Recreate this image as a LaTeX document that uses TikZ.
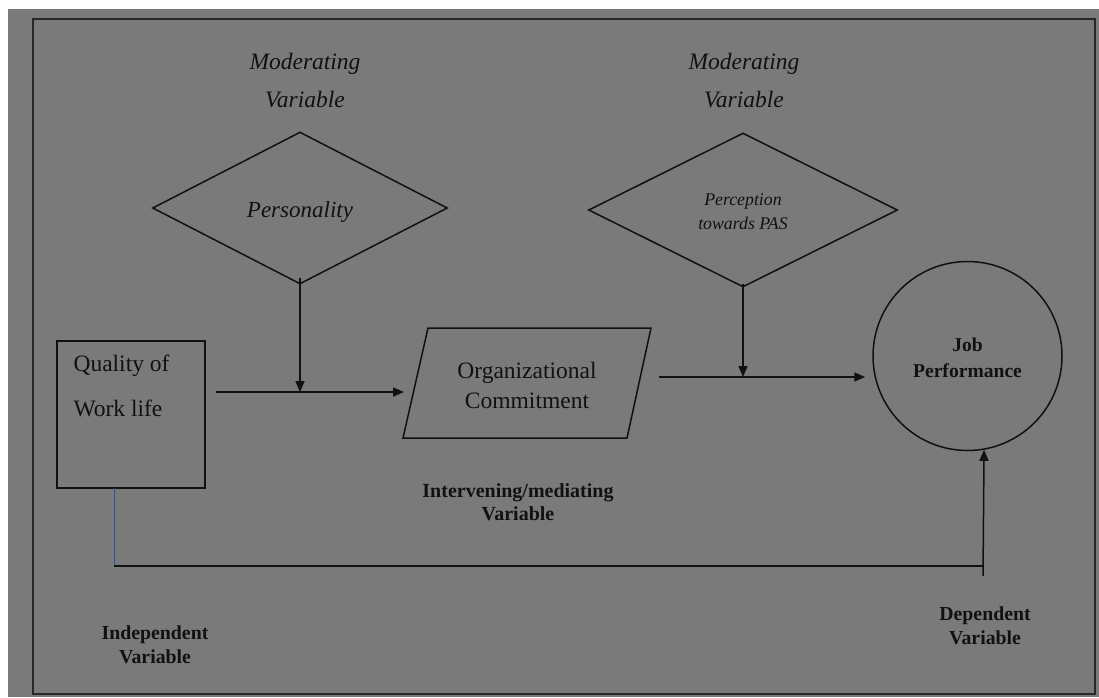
\documentclass[tikz,border=0pt]{standalone}
\usepackage{fontspec}
\setmainfont{Liberation Serif}
\usetikzlibrary{arrows.meta,shapes.geometric}
\definecolor{bggray}{RGB}{122,122,122}
\definecolor{framec}{RGB}{40,40,40}
\definecolor{inkc}{RGB}{17,17,17}
\definecolor{bluel}{RGB}{50,85,120}
\tikzset{
  shapeline/.style={draw=inkc, line width=1.5pt},
  arr/.style={draw=inkc, line width=1.5pt, -{Triangle[length=11pt,width=9pt]}},
  plain/.style={draw=inkc, line width=1.5pt},
  modtext/.style={text=inkc, align=center, font=\itshape\fontsize{23.5}{38}\selectfont},
  boldlabel/.style={text=inkc, align=center, font=\bfseries\fontsize{19.8}{24}\selectfont},
}
\begin{document}
\begin{tikzpicture}[x=1pt,y=-1pt]
\useasboundingbox (0,0) rectangle (1099,697);
\fill[white] (0,0) rectangle (1099,697);
\fill[bggray] (8,9) rectangle (1099,697);
\draw[framec, line width=2pt] (33,19) rectangle (1095,694);

% moderating labels
\node[modtext] (mod1) at (305,81) {Moderating\\Variable};
\node[modtext] (mod2) at (744,81) {Moderating\\Variable};

% diamonds
\node[shapeline, diamond, inner sep=0pt, minimum width=295pt, minimum height=152pt] (pers) at (300,208) {};
\node[text=inkc, font=\itshape\fontsize{23}{28}\selectfont] (perst) at (300,212) {Personality};
\node[shapeline, diamond, inner sep=0pt, minimum width=309pt, minimum height=154pt] (perc) at (743,210) {};
\node[text=inkc, align=center, font=\itshape\fontsize{17.8}{24}\selectfont] (perct) at (743,212) {Perception\\towards PAS};

% quality box
\node[shapeline, rectangle, minimum width=148pt, minimum height=147pt, inner sep=0pt] (q) at (131,414.5) {};
\node[text=inkc, align=left, anchor=west, font=\fontsize{23.5}{45}\selectfont] (qt) at (70,386) {Quality of\\Work life};

% parallelogram
\coordinate (p1) at (428,328);
\coordinate (p2) at (651,328);
\coordinate (p3) at (627,438);
\coordinate (p4) at (403,438);
\draw[shapeline, line join=miter] (p1) -- (p2) -- (p3) -- (p4) -- cycle;
\node[text=inkc, align=center, font=\fontsize{23.5}{30}\selectfont] (oc) at (527,385) {Organizational\\Commitment};

% job performance circle
\node[shapeline, circle, minimum size=189pt, inner sep=0pt] (jp) at (967.5,356) {};
\node[text=inkc, align=center, font=\bfseries\fontsize{19.6}{26}\selectfont] (jpt) at (967.5,358) {Job\\Performance};

% labels
\node[boldlabel, font=\bfseries\fontsize{20}{23}\selectfont] (iv) at (518,502) {Intervening/mediating\\Variable};
\node[boldlabel] (indep) at (155,645) {Independent\\Variable};
\node[boldlabel] (dep) at (985,626) {Dependent\\Variable};

% connectors
\coordinate (a1) at (216,392);
\coordinate (a2) at (404,392);
\draw[arr] (a1) -- (a2);
\draw[arr] ([yshift=7pt]pers.south) -- (pers.south |- a1);
\coordinate (b1) at (659,377);
\draw[arr, shorten >=7pt] (b1) -- (jp.west |- b1);
\draw[arr] ([yshift=4pt]perc.south) -- (perc.south |- b1);

\coordinate (qb) at (114,488);
\coordinate (low) at (114,566);
\coordinate (lowr) at (983,566);
\coordinate (tail) at (983,576);
\draw[bluel, line width=0.9pt] (qb) -- (low);
\draw[plain] (low) -- (lowr);
\draw[arr] (tail) -- (jp.-80.5);
\end{tikzpicture}
\end{document}
